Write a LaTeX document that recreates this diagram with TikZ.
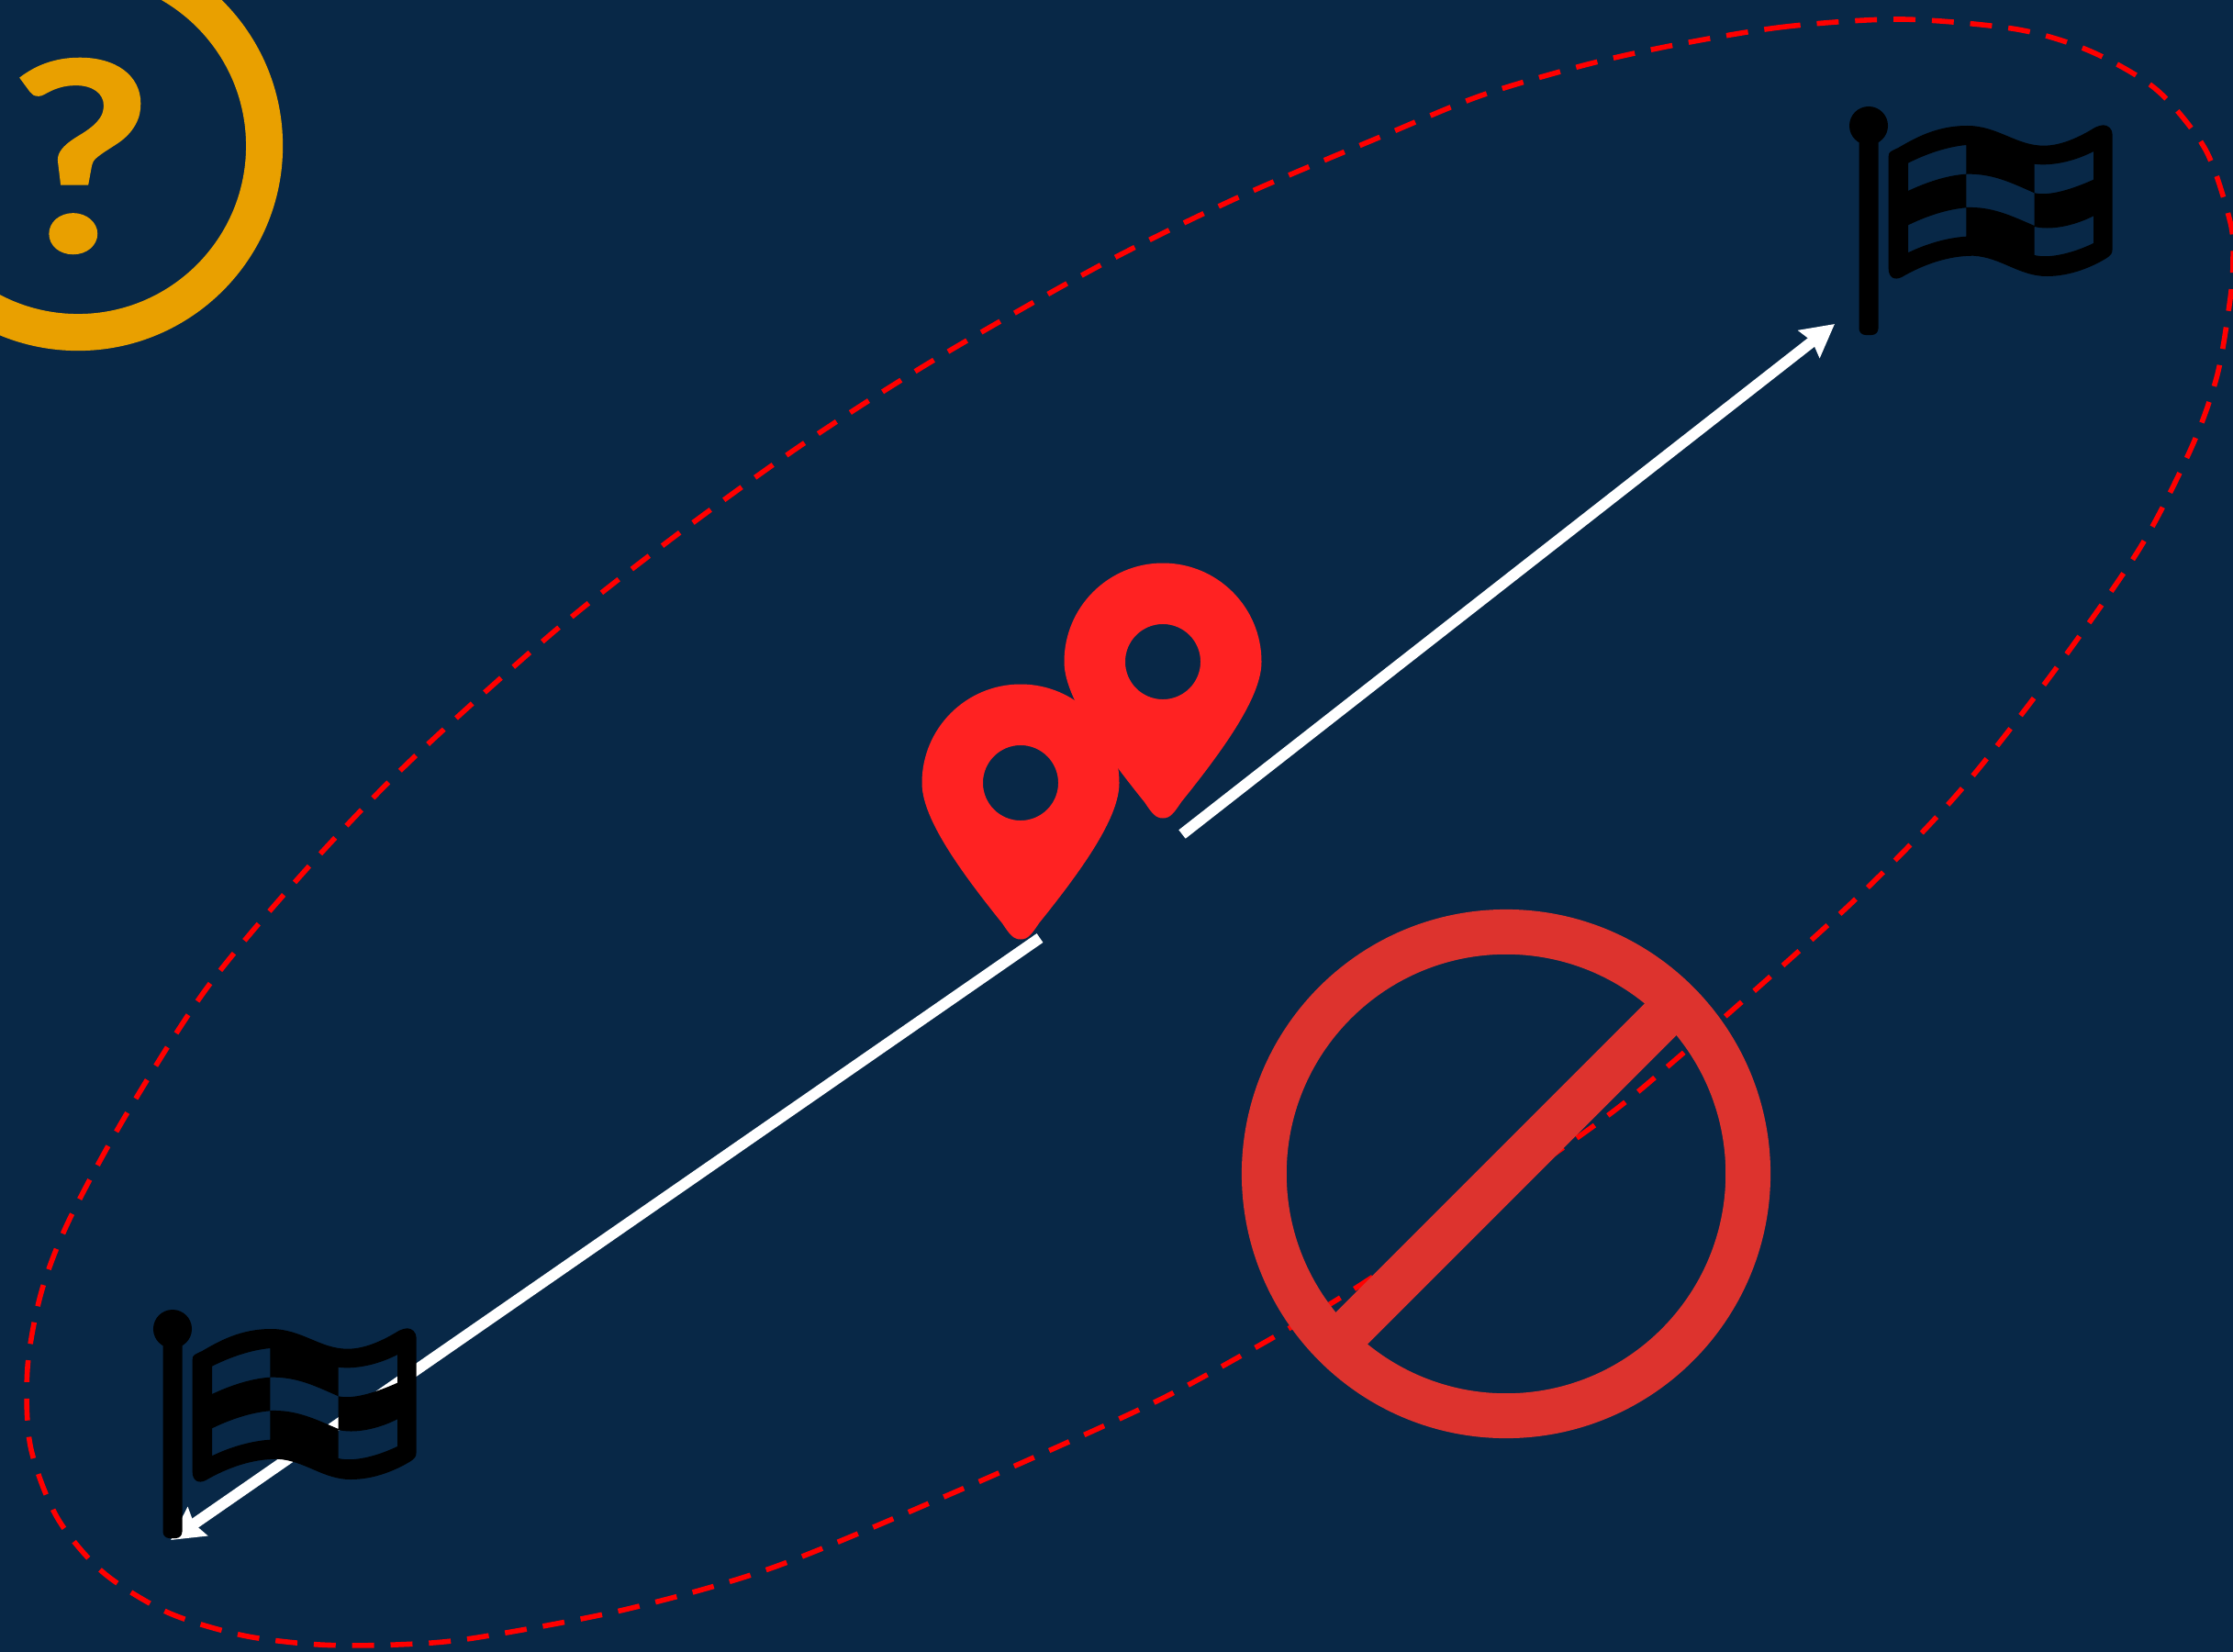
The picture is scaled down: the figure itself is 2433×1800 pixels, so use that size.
\documentclass[tikz,border=0pt]{standalone}
\usepackage{fontspec}
\setmainfont{Lato}[BoldFeatures={FakeStretch=1.17,FakeBold=0.6}]
\usepackage{xcolor}
\usetikzlibrary{arrows.meta}
\definecolor{nightblue}{HTML}{082847}
\definecolor{askorange}{HTML}{E9A000}
\definecolor{nored}{HTML}{DD332E}
\definecolor{pinred}{HTML}{FF2222}
\tikzset{
  route/.style={white,line width=3.4pt,-{Stealth[length=10pt,width=10.5pt,inset=1.2pt]}},
  ringnode/.style={circle,draw,fill=none,inner sep=0pt,outer sep=0pt},
}

\begin{document}
\begin{tikzpicture}[x=0.01cm,y=-0.01cm]
    \clip (0,0) rectangle (2433,1800);
    \fill[nightblue] (0,0) rectangle (2433,1800);
    % zone
    \draw[red,line width=1.6pt,dash pattern=on 6.8pt off 5.1pt] plot[smooth cycle] coordinates {
      (2072,21) (1946,29) (1830,48) (1730,70) (1614,104) (1502,150) (1347,216) (1197,290)
      (1013,395) (873,485) (737,583) (605,687) (448,828) (333,948) (225,1077) (136,1217)
      (75,1330) (45,1408) (30,1490) (33,1575) (62,1653) (112,1713) (183,1757) (265,1782)
      (348,1792) (432,1792) (515,1785) (680,1754) (842,1708) (1040,1626) (1241,1536)
      (1340,1484) (1484,1399) (1725,1235) (1824,1156) (2013,988) (2131,867) (2233,738)
      (2331,598) (2388,487) (2416,408) (2430,325) (2433,283) (2430,242) (2403,163)
      (2350,98) (2278,56) (2198,32)};
    % routes
    \coordinate (startne) at (1288,909);
    \coordinate (endne) at (1999,353);
    \coordinate (startsw) at (1133,1022);
    \coordinate (endsw) at (186,1678);
    \draw[route] (startne) -- (endne);
    \draw[route] (startsw) -- (endsw);
    % flags
    \foreach \fx/\fy in {2036/137,188/1448}{
      \begin{scope}[shift={(\fx,\fy)}]
        \fill (0,0) circle [radius=0.21cm];
        \fill[rounded corners=2pt] (-10.5,0) rectangle (10.5,228);
        \fill[even odd rule]
          (21.7,33.3) -- (21.7,156) .. controls (21.7,165) and (28,169) .. (36,165)
          .. controls (60,151) and (87,141.7) .. (114,141.7)
          .. controls (144,143.3) and (164,164) .. (194,164)
          .. controls (220.7,164) and (244,153.3) .. (258,145)
          .. controls (264,141) and (265.7,140) .. (265.7,133)
          -- (265.7,10) .. controls (265.7,3.3) and (260.7,-0.7) .. (255.7,-0.7)
          .. controls (253,-0.7) and (250,0.5) .. (247,1.7)
          .. controls (230.7,11.7) and (210.7,21.7) .. (190.7,21.7)
          .. controls (160.7,21.7) and (140.7,0) .. (107.3,0)
          .. controls (74,0) and (50.7,13.3) .. (32.3,24)
          .. controls (24,28) and (21.7,28.3) .. (21.7,33.3) -- cycle
          (43,40.7) .. controls (62,31) and (85,23) .. (106.3,21) -- (106.3,52.7)
          .. controls (85,54) and (62,62) .. (43,71) -- cycle
          (106.3,52.7) .. controls (135,52) and (155,62) .. (180.7,73.3) -- (180.7,109)
          .. controls (155,98) and (135,88) .. (106.3,89) -- cycle
          (43,108.3) .. controls (62,99) and (85,91) .. (106.3,89.3) -- (106.3,120.7)
          .. controls (85,122) and (62,129) .. (43,138.3) -- cycle
          (180.7,41.7) .. controls (197,44) and (222,40) .. (245,28) -- (245,58.7)
          .. controls (222,69) and (197,77) .. (180.7,73.3) -- cycle
          (180.7,110) .. controls (197,114) and (222,110) .. (245,98.3) -- (245,128)
          .. controls (222,139) and (197,145) .. (180.7,141) -- cycle;
      \end{scope}
    }
    % pins
    \foreach \px/\py in {1112/853,1267/721}{
      \begin{scope}[shift={(\px,\py)}]
        \fill[pinred,even odd rule]
          (-107.5,0) .. controls (-107.5,-59.4) and (-59.4,-107.5) .. (0,-107.5)
          .. controls (59.4,-107.5) and (107.5,-59.4) .. (107.5,0)
          .. controls (107.5,35) and (74,86) .. (20,153)
          .. controls (12,165) and (8,170.5) .. (0,170.5)
          .. controls (-8,170.5) and (-12,165) .. (-20,153)
          .. controls (-74,86) and (-107.5,35) .. (-107.5,0) -- cycle
          (0,0) circle [radius=0.41cm];
      \end{scope}
    }
    % forbidden sign
    \node[ringnode,draw=nored,line width=13.9pt,minimum size=5.27cm] (nosign) at (1641,1279) {};
    \draw[nored,line width=13.9pt] (nosign.north east) -- (nosign.south west);
    % question mark
    \node[ringnode,draw=askorange,line width=11.4pt,minimum size=4.06cm] (askring) at (85,159) {};
    \node[askorange,inner sep=0pt,font=\bfseries\fontsize{82}{82}\selectfont] (askmark) at (88,170) {?};
\end{tikzpicture}
\end{document}
